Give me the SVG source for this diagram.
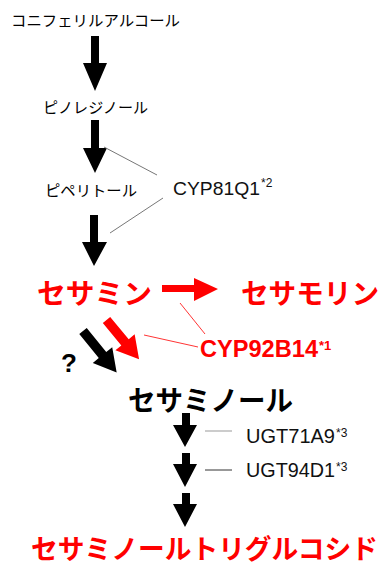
<svg xmlns="http://www.w3.org/2000/svg" width="384" height="567" viewBox="0 0 384 567">
<style>
.jp{font-family:"Noto Sans CJK JP","Noto Sans CJK SC",sans-serif;}
.sm{font-size:15px;fill:#000;}
.big{font-size:28px;font-weight:bold;}
.red{fill:#ff0000;}
.blk{fill:#000;}
.lat{font-family:"Liberation Sans",Arial,sans-serif;fill:#111;}
.conn{stroke:#777;stroke-width:1;fill:none;}
.rconn{stroke:#ff0000;stroke-width:0.8;fill:none;}
</style>
<rect width="384" height="567" fill="#fff"/>
<g id="connectors">
  <polygon class="blk" points="91,36 99,36 99,63 107,63 95,91 83,63 91,63"/>
  <polygon class="blk" points="91,120 99,120 99,148 107,148 95,173 83,148 91,148"/>
  <polygon class="blk" points="90,215 98,215 98,242 107,242 94,266 82,242 90,242"/>
  <line class="conn" x1="104" y1="147" x2="157" y2="175"/>
  <line class="conn" x1="163" y1="198" x2="110" y2="233"/>
  <polygon class="red" points="162,285 194,285 194,278 218,289 194,301 194,292 162,292"/>
  <line class="rconn" x1="180" y1="303" x2="205" y2="334"/>
  <line class="rconn" x1="144" y1="335" x2="198" y2="347"/>
  <path class="red" transform="translate(106.5,320) rotate(50.3)" d="M0,-4.8 H29 V-12.5 L51,0 L29,12.5 V4.8 H0 Z"/>
  <path class="blk" transform="translate(83,331) rotate(51)" d="M0,-4.8 H31 V-12.5 L53.5,0 L31,12.5 V4.8 H0 Z"/>
  <polygon class="blk" points="182,413 190,413 190,425 197,425 185,447 173,425 182,425"/>
  <polygon class="blk" points="182,453 190,453 190,464 197,464 185,487 173,464 182,464"/>
  <polygon class="blk" points="182,493 190,493 190,504 197,504 185,527 173,504 182,504"/>
  <line x1="205" y1="431" x2="232" y2="431" stroke="#999" stroke-width="1"/>
  <line x1="205" y1="470" x2="232" y2="470" stroke="#333" stroke-width="1"/>
</g>
<g id="coniferyl"><text class="jp sm" x="11" y="26" textLength="169" lengthAdjust="spacingAndGlyphs">コニフェリルアルコール</text></g>
<g id="pinoresinol"><text class="jp sm" x="43" y="113" textLength="105" lengthAdjust="spacingAndGlyphs">ピノレジノール</text></g>
<g id="piperitol"><text class="jp sm" x="45" y="196" textLength="92" lengthAdjust="spacingAndGlyphs">ピペリトール</text></g>
<g id="cyp81q1">
  <text class="lat" x="173" y="195" font-size="19" textLength="87" lengthAdjust="spacingAndGlyphs">CYP81Q1</text>
  <text class="lat" x="261" y="187" font-size="12">*2</text>
</g>
<g id="sesamin"><text class="jp big red" x="37" y="304" textLength="115" lengthAdjust="spacingAndGlyphs">セサミン</text></g>
<g id="sesamolin"><text class="jp big red" x="241" y="304" textLength="138" lengthAdjust="spacingAndGlyphs">セサモリン</text></g>
<g id="cyp92b14">
  <text x="200" y="357" font-family="Liberation Sans,Arial,sans-serif" font-weight="bold" font-size="24" fill="#ff0000" textLength="118" lengthAdjust="spacingAndGlyphs">CYP92B14</text>
  <text x="319" y="350" font-family="Liberation Sans,Arial,sans-serif" font-weight="bold" font-size="13" fill="#ff0000">*1</text>
</g>
<g id="question"><text x="61" y="372" font-family="Liberation Sans,Arial,sans-serif" font-weight="bold" font-size="26" fill="#000">?</text></g>
<g id="sesaminol"><text class="jp big blk" x="128" y="411" textLength="165" lengthAdjust="spacingAndGlyphs">セサミノール</text></g>
<g id="ugt71a9">
  <text class="lat" x="246" y="443" font-size="20" textLength="89" lengthAdjust="spacingAndGlyphs">UGT71A9</text>
  <text class="lat" x="336" y="437" font-size="12">*3</text>
</g>
<g id="ugt94d1">
  <text class="lat" x="246" y="477" font-size="20" textLength="89" lengthAdjust="spacingAndGlyphs">UGT94D1</text>
  <text class="lat" x="336" y="471" font-size="12">*3</text>
</g>
<g id="sesaminol-triglucoside"><text class="jp red" x="31" y="559" font-size="27" font-weight="bold" textLength="347" lengthAdjust="spacingAndGlyphs">セサミノールトリグルコシド</text></g>
</svg>
